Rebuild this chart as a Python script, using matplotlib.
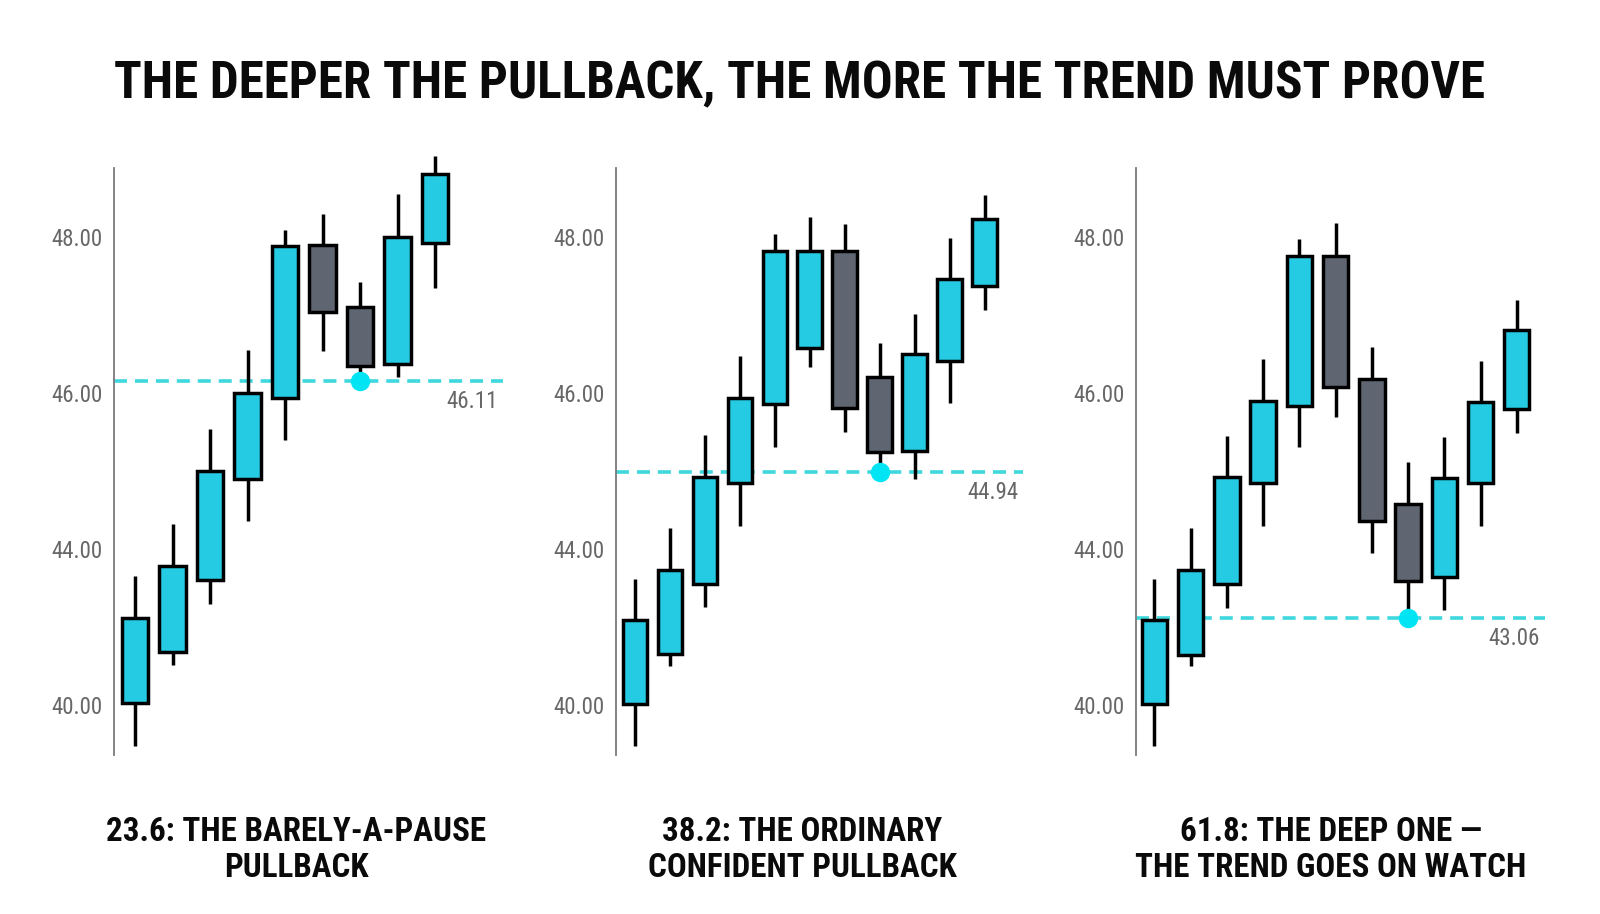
import matplotlib
matplotlib.use('Agg')
import matplotlib.pyplot as plt
from matplotlib import font_manager as fm
from matplotlib.transforms import ScaledTranslation

# ---------------- data ----------------
title = "THE DEEPER THE PULLBACK, THE MORE THE TREND MUST PROVE"
subtitles = [
    ["23.6: THE BARELY-A-PAUSE", "PULLBACK"],
    ["38.2: THE ORDINARY", "CONFIDENT PULLBACK"],
    ["61.8: THE DEEP ONE \u2014", "THE TREND GOES ON WATCH"],
]
ytick_pos = [42, 44, 46, 48]
ytick_labels = ["40.00", "44.00", "46.00", "48.00"]

p1_open = [41.97, 42.62, 43.55, 44.85, 45.89, 47.85, 47.05, 46.32, 47.88]
p1_close = [43.06, 43.73, 44.95, 45.95, 47.84, 46.99, 46.30, 47.95, 48.76]
p1_high = [43.60, 44.27, 45.49, 46.50, 48.04, 48.25, 47.37, 48.50, 49.00]
p1_low = [41.42, 42.46, 43.24, 44.30, 45.35, 46.49, 46.11, 46.16, 47.30]

p2_open = [41.96, 42.60, 43.50, 44.79, 45.81, 46.53, 47.77, 46.15, 45.21, 46.36, 47.33]
p2_close = [43.03, 43.67, 44.87, 45.88, 47.77, 47.77, 45.76, 45.19, 46.45, 47.41, 48.19]
p2_high = [43.56, 44.21, 45.41, 46.43, 47.99, 48.21, 48.12, 46.59, 46.96, 47.94, 48.49]
p2_low = [41.42, 42.44, 43.20, 44.24, 45.26, 46.29, 45.45, 44.94, 44.84, 45.82, 47.01]

p3_open = [41.96, 42.59, 43.50, 44.79, 45.78, 47.71, 46.13, 44.53, 43.58, 44.79, 45.75]
p3_close = [43.03, 43.67, 44.87, 45.85, 47.71, 46.03, 44.30, 43.53, 44.86, 45.83, 46.76]
p3_high = [43.56, 44.21, 45.40, 46.39, 47.93, 48.13, 46.54, 45.06, 45.39, 46.36, 47.15]
p3_low = [41.42, 42.44, 43.19, 44.24, 45.26, 45.64, 43.89, 43.06, 43.16, 44.24, 45.44]

levels = [46.11, 44.94, 43.06]
level_labels = ["46.11", "44.94", "43.06"]
dip_index = [6, 7, 7]

panels = [
    (p1_open, p1_close, p1_high, p1_low),
    (p2_open, p2_close, p2_high, p2_low),
    (p3_open, p3_close, p3_high, p3_low),
]

# ---------------- style ----------------
names = {f.name for f in fm.fontManager.ttflist}
def pick(cands):
    for c in cands:
        if c in names:
            return c
    return 'DejaVu Sans'

BOLD = pick(['Roboto Condensed', 'Liberation Sans Narrow', 'Open Sans Condensed', 'Roboto'])
LIGHT = pick(['Roboto Condensed', 'Liberation Sans Narrow', 'Roboto'])

UP = '#25CAE3'
DOWN = '#5F6571'
LEVEL = '#3ED8DE'
DOT = '#00E4F4'
TICK = '#676767'

W, H = 1600, 914
fig = plt.figure(figsize=(W / 100, H / 100), dpi=100)
fig.patch.set_facecolor('white')

rects = [(114, 503), (616, 1023), (1136, 1545)]
top_px, bot_px = 168, 755
xlims = [(-0.56, 9.81), (-0.54, 11.1), (-0.51, 10.78)]
ylim = (41.30, 48.84)

shift = ScaledTranslation(0, -4 / 100, fig.dpi_scale_trans)

axes = []
for i, (o, c, h, l) in enumerate(panels):
    L, R = rects[i]
    ax = fig.add_axes([L / W, 1 - bot_px / H, (R - L) / W, (bot_px - top_px) / H])
    axes.append(ax)
    x = list(range(len(o)))
    cols = [UP if cc >= oo else DOWN for oo, cc in zip(o, c)]
    bottoms = [min(oo, cc) for oo, cc in zip(o, c)]
    heights = [abs(cc - oo) for oo, cc in zip(o, c)]
    ax.vlines(x, l, h, color='black', linewidth=2.5, zorder=3, clip_on=False)
    ax.bar(x, heights, bottom=bottoms, width=0.70, color=cols, edgecolor='black',
           linewidth=2.5, zorder=4, clip_on=False)
    ax.axhline(levels[i], color=LEVEL, linewidth=2.6, linestyle=(0, (3.6, 2.2)), zorder=2)
    ax.plot([dip_index[i]], [levels[i]], 'o', color=DOT, markersize=14, markeredgewidth=0,
            zorder=6, clip_on=False)
    ax.annotate(level_labels[i], xy=(1, levels[i]), xycoords=('axes fraction', 'data'),
                xytext=(-3.5, -15), textcoords='offset points', ha='right', va='center',
                fontsize=16.5, color=TICK, family=LIGHT, fontweight='normal')
    ax.set_xlim(*xlims[i])
    ax.set_ylim(*ylim)
    ax.set_xticks([])
    ax.tick_params(axis='y', length=0, pad=8)
    ax.set_yticks(ytick_pos)
    ax.set_yticklabels(ytick_labels, family=LIGHT, fontweight='normal', fontsize=16.5, color=TICK)
    for tk in ax.yaxis.get_major_ticks():
        tk.label1.set_transform(tk.label1.get_transform() + shift)
    for s in ['top', 'right', 'bottom']:
        ax.spines[s].set_visible(False)
    ax.spines['left'].set_color('#7A7A7A')
    ax.spines['left'].set_linewidth(1.3)
    ax.set_facecolor('none')

# ---------------- text (fit widths) ----------------
renderer = fig.canvas.get_renderer()

def fit_size(s, target_px, family, weight='bold'):
    t = fig.text(0, 0, s, fontsize=20, family=family, fontweight=weight)
    wpx = t.get_window_extent(renderer).width
    t.remove()
    return 20 * target_px / wpx

ts = fit_size(title, 1372, BOLD)
fig.text(800 / W, 1 - 84 / H, title, ha='center', va='center', fontsize=ts,
         family=BOLD, fontweight='bold', color='#0A0A0A')

sub_targets = [[380, None], [286, 316], [322, 396]]
sizes = []
for lines, tg in zip(subtitles, sub_targets):
    for s, t in zip(lines, tg):
        if t:
            sizes.append(fit_size(s, t, BOLD))
ss = 0.975 * sum(sizes) / len(sizes)
sub_x = [296, 802, 1331]
sub_y = [832, 868]
for lines, sx in zip(subtitles, sub_x):
    for s, sy in zip(lines, sub_y):
        fig.text(sx / W, 1 - sy / H, s, ha='center', va='center', fontsize=ss,
                 family=BOLD, fontweight='bold', color='#0A0A0A')

fig.savefig('out.png', dpi=100, facecolor='white')
